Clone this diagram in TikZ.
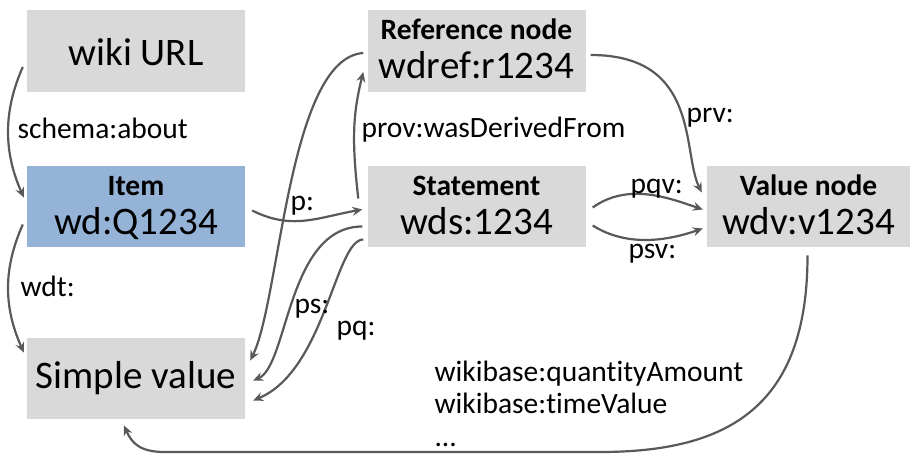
\documentclass[tikz,border=0pt]{standalone}
\usepackage{fontspec}
\setmainfont{Carlito}[Ligatures=NoCommon]
\usepackage{xcolor}
\usepackage{tikz}
\usetikzlibrary{calc}
\usetikzlibrary{shapes,arrows,arrows.meta,positioning}

\definecolor{boxgray}{HTML}{D9D9D9}
\definecolor{itemblue}{HTML}{95B3D7}
\definecolor{linkgray}{HTML}{595959}

\begin{document}
\begin{tikzpicture}[x=1pt,y=-1pt,
	box/.style={fill=boxgray,minimum width=218pt,minimum height=81.5pt,inner sep=0pt},
	idtext/.style={anchor=base,font=\fontsize{39}{47}\selectfont},
	titletext/.style={anchor=base,font=\fontsize{29.5}{35}\selectfont\bfseries},
	lbl/.style={anchor=base west,font=\fontsize{29.5}{35}\selectfont},
	link/.style={-{Stealth[length=10pt,width=9pt,inset=3.5pt]},line width=2.2pt,linkgray}]
	\useasboundingbox (0,0) rectangle (915,455);
	
	% boxes
	\node[box] (url) at (136,51) {};
	\node[box,fill=itemblue] (item) at (136,206.5) {};
	\node[box] (simple) at (136,378.5) {};
	\node[box] (ref) at (476.5,51) {};
	\node[box] (stmt) at (476.5,206.5) {};
	\node[box,minimum width=203pt] (val) at (808.5,206.5) {};
	
	\node[idtext] (urltext) at (136,65) {wiki URL};
	\node[titletext] (itemtitle) at (136,195) {Item};
	\node[idtext] (itemid) at (136,234) {wd:Q1234};
	\node[idtext] (simpletext) at (136,388) {Simple value};
	\node[titletext] (reftitle) at (476.5,39) {Reference node};
	\node[idtext] (refid) at (476.5,78) {wdref:r1234};
	\node[titletext] (stmttitle) at (476.5,195) {Statement};
	\node[idtext] (stmtid) at (476.5,234) {wds:1234};
	\node[titletext] (valtitle) at (808.5,195) {Value node};
	\node[idtext] (valid) at (808.5,234) {wdv:v1234};
	
	% links
	\draw[link] ($(url.west)+(-4,16)$) .. controls +(-20,45) and +(-20,-45) .. ($(item.west)+(-3,-9)$);
	\draw[link] ($(item.west)+(-4,18)$) .. controls +(-20,45) and +(-20,-45) .. ($(simple.west)+(-3,-26)$);
	\draw[link] ($(item.east)+(7,4)$) .. controls +(40,20) and +(-45,8) .. ($(stmt.west)+(-5,3)$);
	\draw[link] ($(stmt.west)+(-9,-8)$) .. controls +(-7,-60) and +(-10,40) .. ($(ref.west)+(-4,21)$);
	\draw[link] ($(ref.west)+(-4,2)$) .. controls +(-75,5) and +(30,-60) .. ($(simple.east)+(5,-18)$);
	\draw[link] ($(stmt.west)+(-5,20)$) .. controls +(-75,0) and +(35,-15) .. ($(simple.east)+(8,2)$);
	\draw[link] ($(stmt.west)+(-4,33)$) .. controls +(-28,0) and +(72,-30) .. ($(simple.east)+(8,22)$);
	\draw[link] ($(ref.east)+(5,4)$) .. controls +(110,0) and +(-20,-40) .. ($(val.west)+(-5,-14)$);
	\draw[link] ($(stmt.east)+(7,1)$) .. controls +(35,-25) and +(-35,-12) .. ($(val.west)+(-4,3)$);
	\draw[link] ($(stmt.east)+(7,19)$) .. controls +(35,22) and +(-35,12) .. ($(val.west)+(-4,22)$);
	\coordinate (bottomR) at (600,452);
	\coordinate (bottomL) at (165,452);
	\draw[link] ($(val.south)+(-1,8)$) .. controls +(0,150) and +(130,0) .. (bottomR)
		-- (bottomL) .. controls +(-25,0) and +(8,18) .. ($(simple.south)+(-12,6)$);
	
	% labels
	\node[lbl] (lschema) at (14,138) {schema:about};
	\node[lbl] (lwdt) at (17,296) {wdt:};
	\node[lbl] (lp) at (287,210) {p:};
	\node[lbl] (lprov) at (358,137) {prov:wasDerivedFrom};
	\node[lbl] (lprv) at (683,122) {prv:};
	\node[lbl] (lpqv) at (627,193) {pqv:};
	\node[lbl] (lpsv) at (625,258) {psv:};
	\node[lbl] (lps) at (291,313) {ps:};
	\node[lbl] (lpq) at (333,335) {pq:};
	\node[lbl] (lquantity) at (431,381) {wikibase:quantityAmount};
	\node[lbl] (ltime) at (431,413) {wikibase:timeValue};
	\node[lbl] (ldots) at (431,446) {...};
\end{tikzpicture}
\end{document}
